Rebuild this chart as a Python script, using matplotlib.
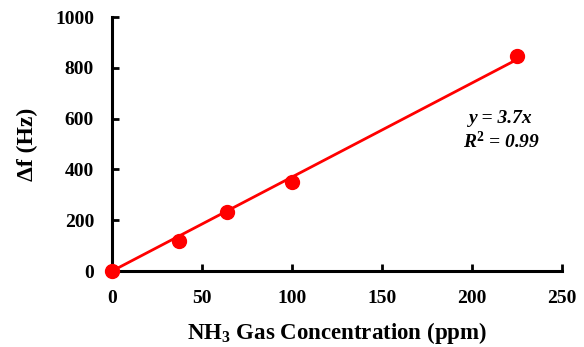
import numpy as np
import matplotlib.pyplot as plt

# NH3 response data: concentration (ppm) vs frequency shift (Hz)
conc = [0, 37, 64, 100, 225]
shift = [0, 118, 232, 350, 848]
slope = 3.7
r2 = 0.99

plt.rcParams['font.family'] = ['Liberation Serif', 'DejaVu Serif']
plt.rcParams['font.weight'] = 'bold'
plt.rcParams['mathtext.fontset'] = 'custom'
plt.rcParams['mathtext.rm'] = 'Liberation Serif:bold'
plt.rcParams['mathtext.it'] = 'Liberation Serif:bold:italic'
plt.rcParams['mathtext.bf'] = 'Liberation Serif:bold'

fig = plt.figure(figsize=(5.84, 3.47), dpi=100)
ax = fig.add_axes([0.192, 0.219, 0.770, 0.732])

fitx = np.array([0, max(conc)])
ax.plot(fitx, slope * fitx, color='red', lw=2, zorder=2)
ax.scatter(conc, shift, s=100, color='red', zorder=3, clip_on=False)

ax.set_xlim(0, 250)
ax.set_ylim(0, 1000)
ax.set_xticks(range(0, 251, 50))
ax.set_yticks(range(0, 1001, 200))
for s in ['top', 'right']:
    ax.spines[s].set_visible(False)
for s in ['left', 'bottom']:
    ax.spines[s].set_linewidth(2.2)
ax.tick_params(direction='in', length=5, width=2, labelsize=14)
ax.tick_params(axis='x', pad=14)
ax.tick_params(axis='y', pad=13)
for lab in ax.get_xticklabels() + ax.get_yticklabels():
    lab.set_fontweight('bold')

ax.set_xlabel('NH$_3$ Gas Concentration (ppm)', fontsize=16.5, fontweight='bold', labelpad=9)
ax.set_ylabel('Δf (Hz)', fontsize=17, fontweight='bold', labelpad=12)

ax.text(0.865, 0.55, 'y = %.1fx\nR$^2$ = %.2f' % (slope, r2), transform=ax.transAxes,
        ha='center', va='center', fontsize=14, fontweight='bold', style='italic',
        linespacing=1.25)

plt.savefig('out.png', dpi=100)
